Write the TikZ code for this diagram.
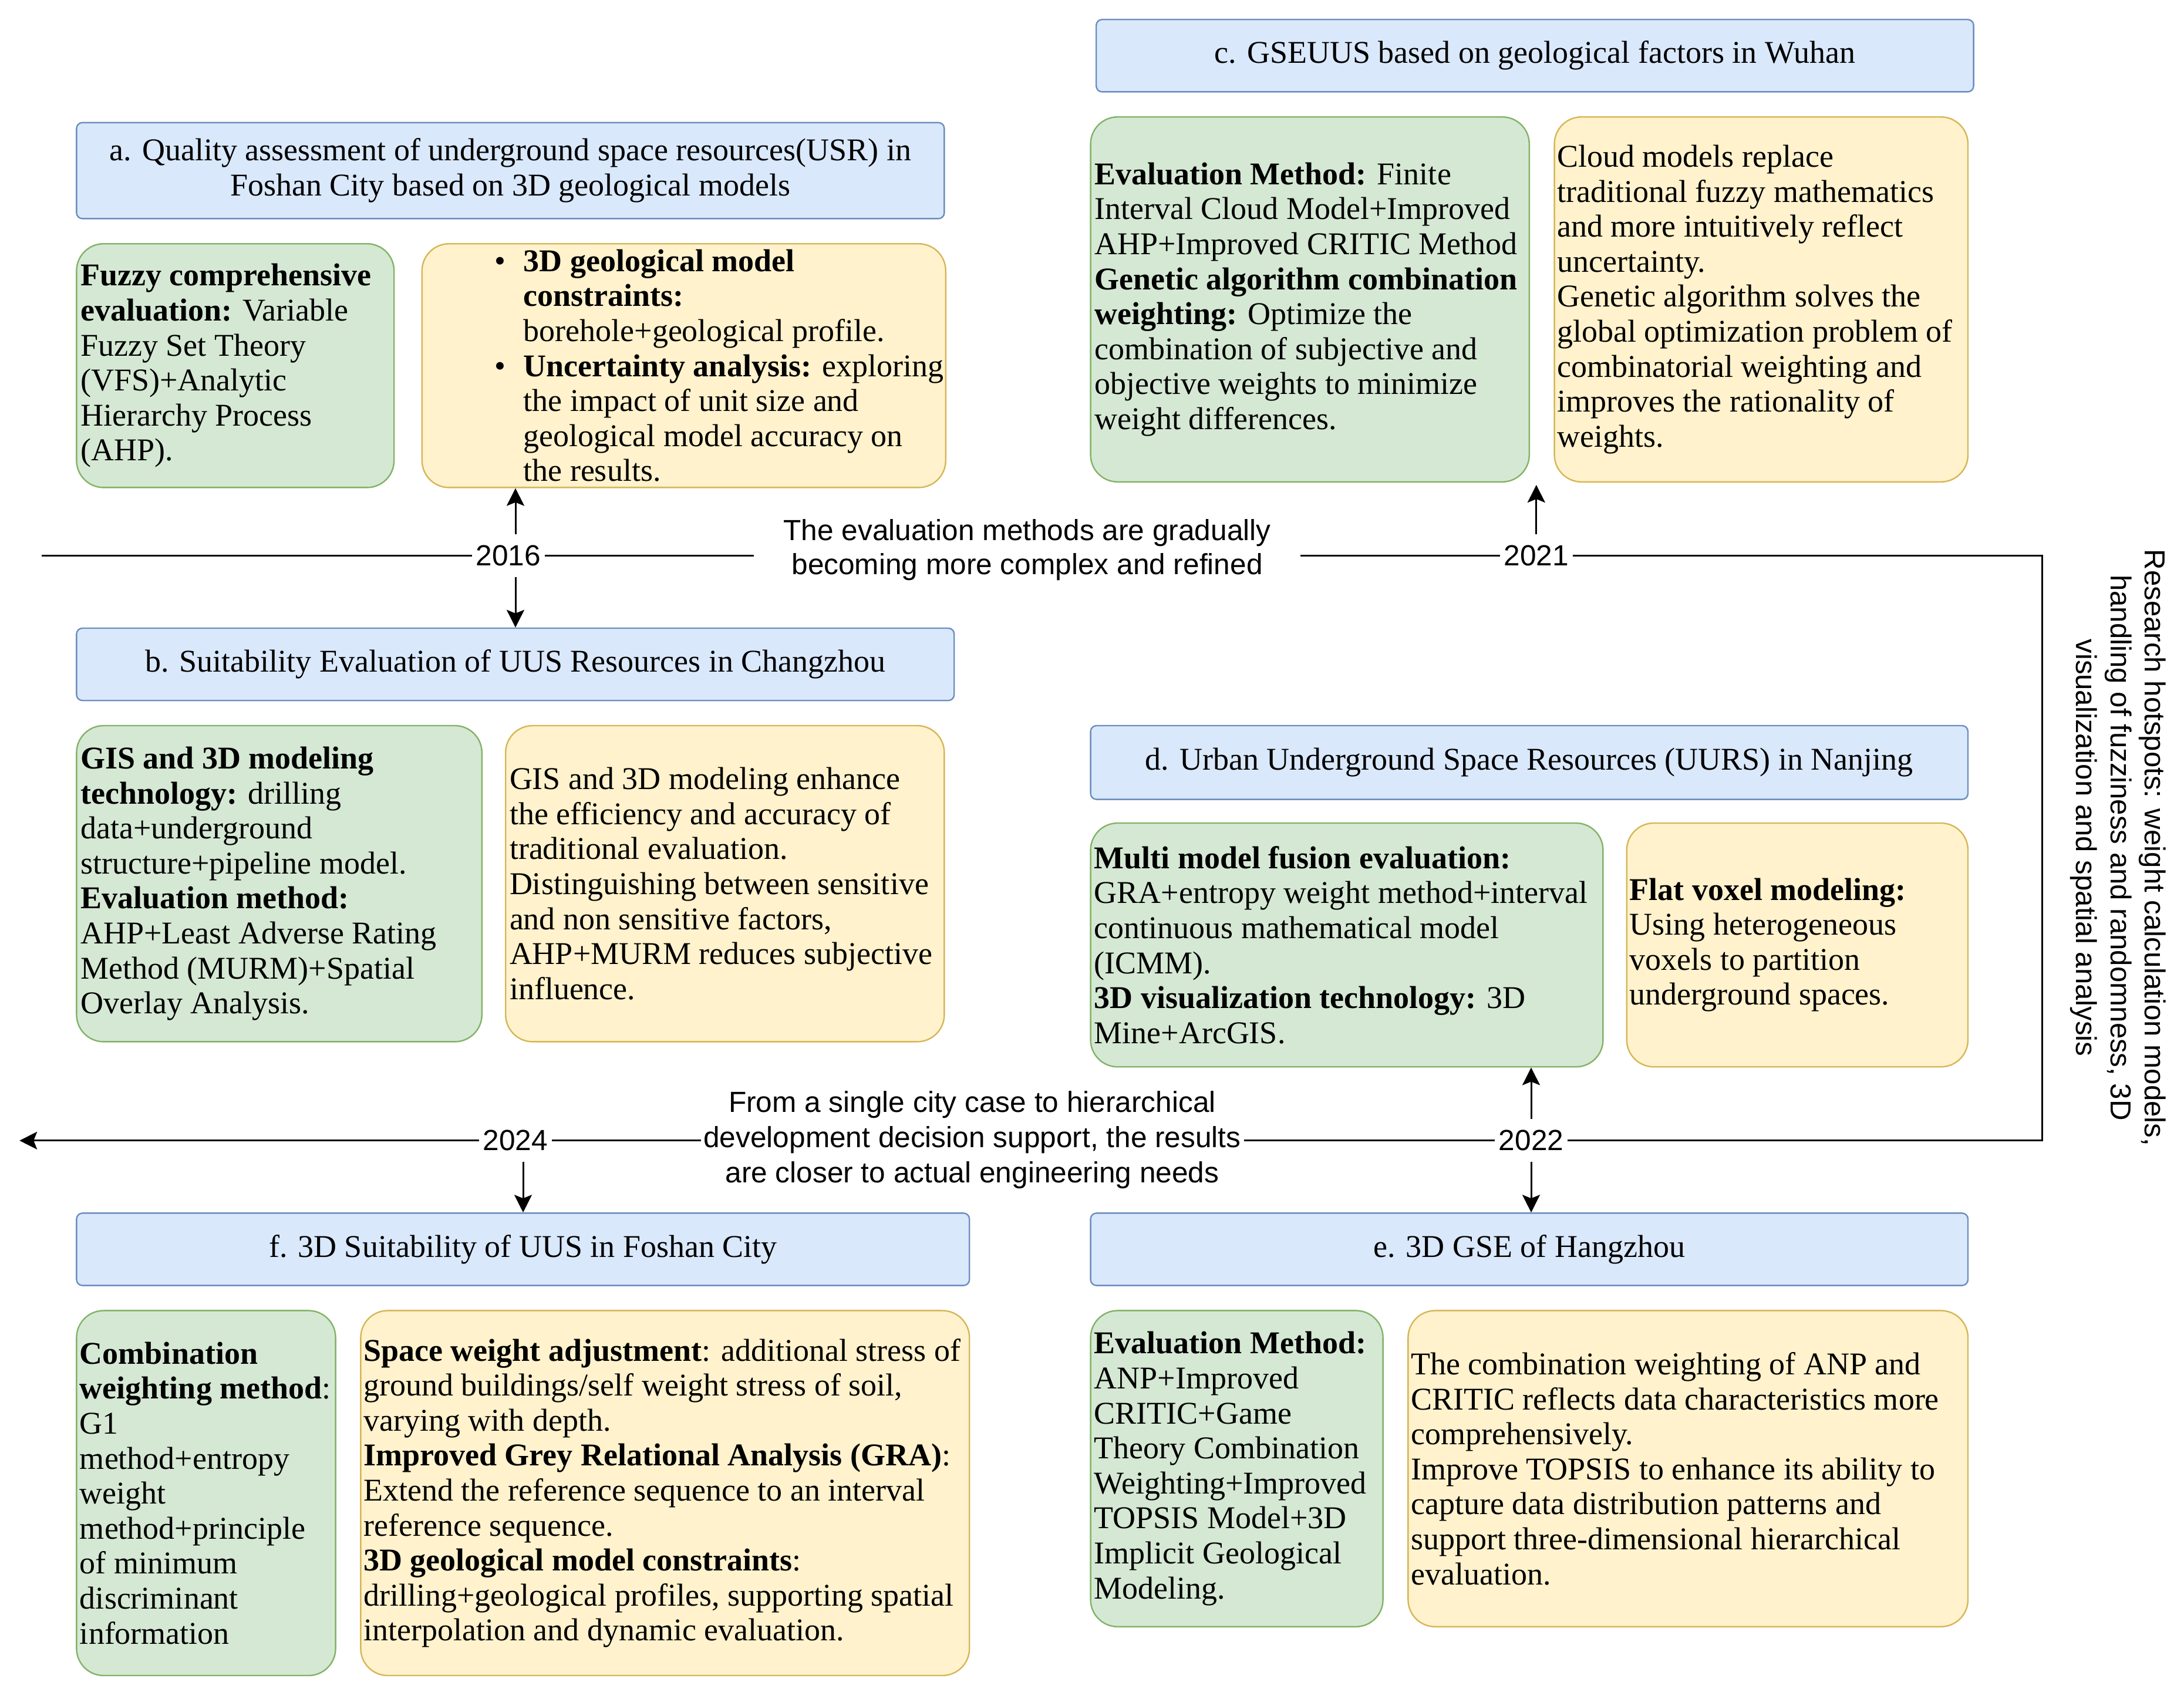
\documentclass[tikz,border=0pt]{standalone}
\usepackage{fontspec}
\setmainfont{Liberation Serif}
\newfontfamily\sansf{Liberation Sans}
\usetikzlibrary{arrows.meta}
\definecolor{hF}{HTML}{DAE8FC}\definecolor{hB}{HTML}{6C8EBF}
\definecolor{gF}{HTML}{D5E8D4}\definecolor{gB}{HTML}{82B366}
\definecolor{yF}{HTML}{FFF2CC}\definecolor{yB}{HTML}{D6B656}
\newcommand\placebox[7]{%
  \node[#2, minimum width={(#5-#3)*1pt}, minimum height={(#6-#4)*1pt}] (#1) at ({(#3+#5)/2},{(#4+#6)/2}) {#7};}
\tikzset{
  hdr/.style={draw=hB, fill=hF, line width=0.6pt, rounded corners=2.5pt, inner sep=0pt, align=center,
    font=\fontsize{13.5}{14.9}\selectfont},
  gbox/.style={draw=gB, fill=gF, line width=0.6pt, rounded corners=11.5pt, inner sep=0pt},
  ybox/.style={draw=yB, fill=yF, line width=0.6pt, rounded corners=11.5pt, inner sep=0pt},
  body/.style={align=left, inner sep=0pt, anchor=west, font=\fontsize{13.5}{14.9}\selectfont},
  yearlbl/.style={inner xsep=1.5pt, inner ysep=4.5pt, font=\sansf\fontsize{12.4}{14}\selectfont},
  tline/.style={line width=0.75pt},
  arr/.style={line width=0.75pt, -{Stealth[length=7.5pt,width=7.5pt,inset=1.5pt]}},
}
\newcommand\bul{\makebox[12.4pt][l]{\textbullet}}
\newcommand\ind{\hspace*{12.4pt}}
\begin{document}
\begin{tikzpicture}[x=1pt,y=-1pt]
\useasboundingbox (0,0) rectangle (930,723.5);

% ---- a ----
\placebox{ah}{hdr}{32.6}{52.2}{402.1}{93.1}{a. Quality assessment of underground space resources(USR) in\\ Foshan City based on 3D geological models}
\placebox{ag}{gbox}{32.6}{103.8}{167.8}{207.6}{}
\placebox{ay}{ybox}{179.7}{103.8}{402.7}{207.6}{}
\node[body] (agt) at ([xshift=1.8pt]ag.west) {\textbf{Fuzzy comprehensive}\\
\textbf{evaluation:} Variable\\
Fuzzy Set Theory\\
(VFS)+Analytic\\
Hierarchy Process\\
(AHP).};
\node[body] (ayt) at ([xshift=30.9pt]ay.west) {\bul\textbf{3D geological model}\\
\ind\textbf{constraints:}\\
\ind borehole+geological profile.\\
\bul\textbf{Uncertainty analysis:} exploring\\
\ind the impact of unit size and\\
\ind geological model accuracy on\\
\ind the results.};

% ---- b ----
\placebox{bh}{hdr}{32.6}{267.5}{406.3}{298.3}{b. Suitability Evaluation of UUS Resources in Changzhou}
\placebox{bg}{gbox}{32.6}{309.0}{205.2}{443.6}{}
\placebox{by}{ybox}{215.3}{309.0}{402.1}{443.6}{}
\node[body] (bgt) at ([xshift=1.8pt]bg.west) {\textbf{GIS and 3D modeling}\\
\textbf{technology:} drilling\\
data+underground\\
structure+pipeline model.\\
\textbf{Evaluation method:}\\
AHP+Least Adverse Rating\\
Method (MURM)+Spatial\\
Overlay Analysis.};
\node[body] (byt) at ([xshift=1.8pt]by.west) {GIS and 3D modeling enhance\\
the efficiency and accuracy of\\
traditional evaluation.\\
Distinguishing between sensitive\\
and non sensitive factors,\\
AHP+MURM reduces subjective\\
influence.};

% ---- c ----
\placebox{ch}{hdr}{466.8}{8.3}{840.4}{39.1}{c. GSEUUS based on geological factors in Wuhan}
\placebox{cg}{gbox}{464.4}{49.8}{651.2}{205.2}{}
\placebox{cy}{ybox}{661.9}{49.8}{838.0}{205.2}{}
\node[body] (cgt) at ([xshift=1.8pt]cg.west) {\textbf{Evaluation Method:} Finite\\
Interval Cloud Model+Improved\\
AHP+Improved CRITIC Method\\
\textbf{Genetic algorithm combination}\\
\textbf{weighting:} Optimize the\\
combination of subjective and\\
objective weights to minimize\\
weight differences.};
\node[body] (cyt) at ([xshift=1.3pt]cy.west) {Cloud models replace\\
traditional fuzzy mathematics\\
and more intuitively reflect\\
uncertainty.\\
Genetic algorithm solves the\\
global optimization problem of\\
combinatorial weighting and\\
improves the rationality of\\
weights.};

% ---- d ----
\placebox{dh}{hdr}{464.4}{309.0}{838.0}{340.4}{d. Urban Underground Space Resources (UURS) in Nanjing}
\placebox{dg}{gbox}{464.4}{350.5}{682.6}{454.3}{}
\placebox{dy}{ybox}{692.7}{350.5}{838.0}{454.3}{}
\node[body] (dgt) at ([xshift=1.6pt]dg.west) {\textbf{Multi model fusion evaluation:}\\
GRA+entropy weight method+interval\\
continuous mathematical model\\
(ICMM).\\
\textbf{3D visualization technology:} 3D\\
Mine+ArcGIS.};
\node[body] (dyt) at ([xshift=1.3pt]dy.west) {\textbf{Flat voxel modeling:}\\
Using heterogeneous\\
voxels to partition\\
underground spaces.};

% ---- e ----
\placebox{eh}{hdr}{464.4}{516.6}{838.0}{547.4}{e. 3D GSE of Hangzhou}
\placebox{eg}{gbox}{464.4}{558.1}{588.9}{692.7}{}
\placebox{ey}{ybox}{599.6}{558.1}{838.0}{692.7}{}
\node[body] (egt) at ([xshift=1.6pt]eg.west) {\textbf{Evaluation Method:}\\
ANP+Improved\\
CRITIC+Game\\
Theory Combination\\
Weighting+Improved\\
TOPSIS Model+3D\\
Implicit Geological\\
Modeling.};
\node[body] (eyt) at ([xshift=1.3pt]ey.west) {The combination weighting of ANP and\\
CRITIC reflects data characteristics more\\
comprehensively.\\
Improve TOPSIS to enhance its ability to\\
capture data distribution patterns and\\
support three-dimensional hierarchical\\
evaluation.};

% ---- f ----
\placebox{fh}{hdr}{32.6}{516.6}{412.8}{547.4}{f. 3D Suitability of UUS in Foshan City}
\placebox{fg}{gbox}{32.6}{558.1}{142.9}{713.5}{}
\placebox{fy}{ybox}{153.6}{558.1}{412.8}{713.5}{}
\node[body] (fgt) at ([xshift=1.5pt]fg.west) {\textbf{Combination}\\
\textbf{weighting method}:\\
G1\\
method+entropy\\
weight\\
method+principle\\
of minimum\\
discriminant\\
information};
\node[body] (fyt) at ([xshift=1.3pt]fy.west) {\textbf{Space weight adjustment}: additional stress of\\
ground buildings/self weight stress of soil,\\
varying with depth.\\
\textbf{Improved Grey Relational Analysis (GRA)}:\\
Extend the reference sequence to an interval\\
reference sequence.\\
\textbf{3D geological model constraints}:\\
drilling+geological profiles, supporting spatial\\
interpolation and dynamic evaluation.};

% ---- timeline ----
\node[yearlbl] (y16) at (216.5,236.6) {2016};
\node[yearlbl] (y21) at (654.2,236.6) {2021};
\node[yearlbl] (y22) at (652,485.7) {2022};
\node[yearlbl] (y24) at (219.5,485.7) {2024};
\node[align=center, inner xsep=12.5pt, inner ysep=0pt, font=\sansf\fontsize{12.4}{14.5}\selectfont] (t1) at (437.4,234.1)
  {The evaluation methods are gradually\\ becoming more complex and refined};
\node[align=center, inner xsep=1pt, inner ysep=0pt, font=\sansf\fontsize{12.4}{15}\selectfont] (t2) at (414,485.4)
  {From a single city case to hierarchical\\ development decision support, the results\\ are closer to actual engineering needs};
\node[rotate=-90, align=center, inner sep=0pt, font=\sansf\fontsize{12.3}{14.6}\selectfont] (hot) at (902,361)
  {Research hotspots: weight calculation models,\\ handling of fuzziness and randomness, 3D\\ visualization and spatial analysis};

\coordinate (L1) at (17.8,236.6);
\coordinate (R1) at (869.5,236.6);
\coordinate (R2) at (869.5,485.7);
\coordinate (L2) at (8.3,485.7);
\draw[tline] (L1) -- (y16.west);
\draw[tline] (y16.east) -- (t1.west |- y16.east);
\draw[tline] (t1.east |- y21.west) -- (y21.west);
\draw[tline] (y21.east) -- (R1) -- (R2) -- (y22.east);
\draw[tline] (y22.west) -- (t2.east |- y22.west);
\draw[tline] (t2.west |- y24.east) -- (y24.east);
\draw[arr] (y24.west) -- (L2);

% ---- arrows ----
\coordinate (x16) at (219.5,0);
\coordinate (x24) at (222.75,0);
\coordinate (tip21) at (654.2,206.5);
\draw[arr] (x16 |- y16.north) -- (x16 |- ay.south);
\draw[arr] (x16 |- y16.south) -- (x16 |- bh.north);
\draw[arr] (y21.north) -- (tip21);
\draw[arr] (y22.north) -- (y22.north |- dg.south);
\draw[arr] (y22.south) -- (y22.south |- eh.north);
\draw[arr] (x24 |- y24.south) -- (x24 |- fh.north);
\end{tikzpicture}
\end{document}
